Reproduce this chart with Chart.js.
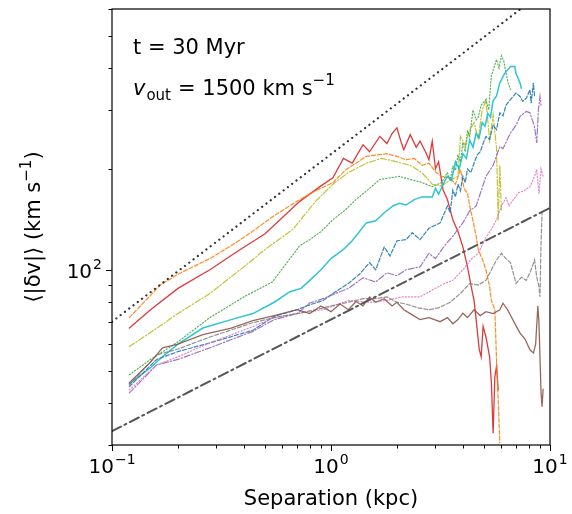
<!DOCTYPE html>
<html>
<head>
<meta charset="utf-8">
<script src="https://cdn.jsdelivr.net/npm/chart.js@4.4.1/dist/chart.umd.min.js"></script>
<style>
  html, body { margin: 0; padding: 0; background: #fff; }
  #wrap { width: 572px; height: 514px; }
</style>
</head>
<body>
<div id="wrap"><canvas id="grafica" width="572" height="514"></canvas></div>
<script>
// datos (separacion en kpc, <|dv|> en km/s)
const redX = [0.12, 0.15, 0.2, 0.28, 0.37, 0.5, 0.72, 0.9, 1.02, 1.14, 1.25, 1.4, 1.5, 1.67, 1.8, 1.9, 2.0, 2.1, 2.15, 2.3, 2.45, 2.55, 2.7, 2.8, 2.9, 3.0, 3.1, 3.25, 3.4, 3.6, 3.8, 4.0, 4.2, 4.4, 4.5, 4.6, 4.75, 4.85, 4.95, 5.1, 5.3, 5.4, 5.5, 5.6, 5.7, 5.8];
const redY = [67, 76, 88, 100, 113, 128, 160, 178, 188, 215, 208, 236, 225, 250, 238, 255, 265, 238, 228, 253, 232, 242, 225, 213, 242, 200, 210, 173, 162, 141, 130, 117, 102, 87, 81, 71, 58, 55, 67.7, 63, 55, 46, 32.5, 48, 51.5, 43.8];

const orangeX = [0.12, 0.166, 0.2, 0.28, 0.35, 0.43, 0.55, 0.72, 0.85, 1.02, 1.17, 1.3, 1.45, 1.6, 1.8, 2.0, 2.2, 2.4, 2.6, 2.8, 3.0, 3.2, 3.5, 3.7, 3.9, 4.05, 4.2, 4.3, 4.45, 4.6, 4.7, 4.9, 5.1, 5.3, 5.4, 5.6, 5.7, 5.8, 5.9];
const orangeY = [72, 90, 97, 108, 118, 129, 145, 162, 172, 182, 199, 208, 218, 220, 222, 218, 213, 215, 205, 208, 196, 190, 188, 180, 199, 175, 169, 155, 140, 126, 115, 108, 100, 89, 81, 76, 54, 41, 30.5];

const oliveX = [0.12, 0.15, 0.2, 0.28, 0.4, 0.5, 0.67, 0.72, 0.85, 1.02, 1.2, 1.45, 1.7, 2.0, 2.3, 2.6, 2.9, 3.2, 3.5, 3.8, 3.9, 4.1, 4.3, 4.5, 4.7, 4.9, 5.1, 5.3, 5.5, 5.7, 5.8, 5.9, 6.0];
const oliveY = [59, 65, 74, 85, 102, 115, 132, 140, 160, 180, 195, 208, 215, 210, 205, 195, 180, 178, 185, 190, 250, 235, 262, 275, 245, 300, 320, 244, 290, 230, 140, 205, 150];

const greenX = [0.12, 0.15, 0.197, 0.28, 0.4, 0.54, 0.72, 0.8, 0.9, 1.02, 1.15, 1.3, 1.5, 1.67, 1.85, 2.05, 2.3, 2.55, 2.9, 3.2, 3.4, 3.5, 3.6, 3.7, 3.8, 3.9, 4.0, 4.1, 4.2, 4.3, 4.45, 4.6, 4.7, 4.85, 5.1, 5.25, 5.4, 5.7, 5.85, 6.0, 6.15, 6.3, 6.45, 6.6];
const greenY = [48.6, 54, 60.5, 72, 83, 92, 118, 123, 130, 141, 150, 162, 175, 186, 188, 190, 186, 183, 177, 182, 195, 185, 204, 198, 220, 210, 240, 225, 260, 250, 300, 280, 285, 310, 322, 300, 380, 424, 400, 435, 420, 386, 360, 345];

const cyanX = [0.12, 0.15, 0.17, 0.2, 0.26, 0.35, 0.44, 0.55, 0.65, 0.73, 0.8, 0.9, 1.0, 1.14, 1.25, 1.45, 1.6, 1.75, 1.92, 2.05, 2.2, 2.4, 2.6, 2.9, 3.0, 3.1, 3.25, 3.4, 3.55, 3.7, 3.85, 4.0, 4.15, 4.3, 4.45, 4.6, 4.75, 4.9, 5.05, 5.2, 5.35, 5.5, 5.7, 5.9, 6.2, 6.6, 6.9, 7.0, 7.3, 7.4];
const cyanY = [45.7, 51, 55, 60, 67, 71, 74, 80, 86, 88, 93, 100, 108, 115, 122, 138, 140, 148, 155, 158, 156, 162, 165, 165, 175, 168, 180, 190, 185, 210, 200, 222, 215, 244, 232, 255, 248, 275, 268, 293, 285, 320, 330, 361, 385, 404, 404, 385, 361, 348];

const blueX = [0.12, 0.16, 0.2, 0.28, 0.44, 0.55, 0.7, 0.8, 0.92, 1.05, 1.2, 1.35, 1.5, 1.6, 1.75, 1.86, 2.0, 2.2, 2.35, 2.55, 2.8, 3.15, 3.4, 3.5, 3.6, 3.7, 3.8, 3.9, 4.0, 4.1, 4.2, 4.35, 4.5, 4.65, 4.8, 4.95, 5.1, 5.3, 5.5, 5.7, 5.9, 6.1, 6.3, 6.6, 7.0, 7.3, 7.5, 7.8, 8.1, 8.2, 8.4, 8.5];
const blueY = [44.8, 54, 57, 60.5, 66, 72.6, 76, 78.6, 81, 86, 91, 97, 105, 100, 117, 110, 122, 123, 129, 123, 133, 138, 155, 148, 173, 165, 180, 172, 190, 182, 200, 195, 208, 220, 225, 238, 250, 245, 270, 262, 294, 288, 310, 322, 337, 329, 318, 325, 345, 314, 361, 330];

const purpleX = [0.12, 0.16, 0.2, 0.28, 0.44, 0.55, 0.7, 0.8, 0.92, 1.05, 1.2, 1.4, 1.6, 1.8, 2.0, 2.2, 2.55, 2.8, 3.0, 3.3, 3.6, 4.0, 4.3, 4.6, 5.1, 5.5, 5.9, 6.1, 6.6, 7.0, 7.3, 7.8, 8.1, 8.5, 8.7, 8.85, 9.0, 9.1];
const purpleY = [42.9, 52, 54, 58.5, 65.5, 71, 74, 79.6, 82, 85, 88, 94.6, 92, 98, 96, 100, 102, 112, 108, 118, 126, 138, 150, 155, 190, 205, 233, 230, 256, 270, 287, 297, 294, 267, 239, 300, 329, 310];

const pinkX = [0.12, 0.16, 0.2, 0.28, 0.44, 0.55, 0.7, 0.92, 1.2, 1.5, 1.8, 2.1, 2.55, 2.9, 3.3, 3.6, 4.0, 4.4, 4.7, 5.1, 5.4, 5.7, 6.0, 6.3, 6.5, 6.8, 7.2, 7.6, 8.1, 8.5, 8.7, 8.9, 9.1, 9.3];
const pinkY = [43.8, 52, 55, 60.5, 67.7, 72, 74, 76, 81, 80, 81, 83, 83, 87, 91, 93, 100, 108, 112, 125, 132, 141, 155, 164, 155, 162, 170, 172, 177, 190, 199, 169, 200, 190];

const grayX = [0.12, 0.16, 0.2, 0.28, 0.44, 0.55, 0.7, 0.85, 1.0, 1.2, 1.4, 1.6, 1.8, 2.0, 2.2, 2.5, 2.8, 3.1, 3.5, 3.9, 4.3, 4.7, 5.1, 5.4, 5.7, 6.0, 6.3, 6.6, 7.0, 7.4, 7.8, 8.2, 8.5, 8.7, 8.9, 9.0, 9.1, 9.2];
const grayY = [45.3, 55.7, 58, 63, 69.5, 72, 74, 76, 78, 80, 82, 82, 83, 80, 79, 77, 76, 77, 80, 85, 91, 90, 93, 100, 107, 112, 108, 105, 91, 95, 93, 100, 107, 95, 89, 83, 120, 148];

const brownX = [0.12, 0.15, 0.17, 0.2, 0.26, 0.35, 0.44, 0.55, 0.7, 0.8, 0.9, 1.0, 1.1, 1.2, 1.3, 1.4, 1.5, 1.6, 1.75, 1.9, 2.0, 2.15, 2.3, 2.55, 2.8, 3.15, 3.4, 3.6, 3.8, 4.0, 4.2, 4.5, 4.8, 5.1, 5.5, 5.9, 6.1, 6.4, 7.0, 7.3, 7.7, 8.1, 8.4, 8.6, 8.8, 8.9, 9.0, 9.1, 9.2, 9.3];
const brownY = [46, 53, 58.5, 60, 64, 67, 70.5, 73, 76, 74, 78, 75, 79, 76, 80.4, 78, 83, 80, 82, 78, 80, 76, 74, 71, 72, 70, 72, 69, 71, 74.2, 72, 76, 73, 75, 74, 76, 79.5, 76, 68, 64.7, 62, 57.7, 56.4, 60, 78, 70, 55, 43, 39, 44];

// rectas de referencia (pendientes 1/2 y 1/3)
const refDotX = [0.1, 10];
const refDotY = [70, 700];
const refDashDotX = [0.1, 10];
const refDashDotY = [33, 153];

// ticks
const xMayores = [0.1, 1, 10];
const xExponentes = ["\u22121", "0", "1"];
const xMenores = [0.2, 0.3, 0.4, 0.5, 0.6, 0.7, 0.8, 0.9, 2, 3, 4, 5, 6, 7, 8, 9];
const yMayores = [100];
const yExponentes = ["2"];
const yMenores = [30, 40, 50, 60, 70, 80, 90, 200, 300, 400, 500, 600];

const FUENTE = "DejaVu Sans";

function puntos(xs, ys) {
    return xs.map((x, i) => ({ x: x, y: ys[i] }));
}

function serie(xs, ys, color, dash, ancho) {
    return {
        data: puntos(xs, ys),
        borderColor: color,
        borderWidth: ancho || 1.2,
        borderDash: dash,
        showLine: true,
        pointRadius: 0,
        tension: 0,
        fill: false
    };
}

const DASH = [4, 2];
const DASHDOT = [6, 2, 1.3, 2];
const DOT = [1.2, 2];

// texto con potencia: "10" y exponente
function textoPotencia(ctx, exp, x, y, align) {
    ctx.font = "20px '" + FUENTE + "'";
    const wBase = ctx.measureText("10").width;
    ctx.font = "14px '" + FUENTE + "'";
    const wExp = ctx.measureText(exp).width;
    const total = wBase + wExp + 1;
    let x0 = x;
    if (align === "center") x0 = x - total / 2;
    if (align === "right") x0 = x - total;
    ctx.textAlign = "left";
    ctx.textBaseline = "alphabetic";
    ctx.font = "20px '" + FUENTE + "'";
    ctx.fillText("10", x0, y);
    ctx.font = "14px '" + FUENTE + "'";
    ctx.fillText(exp, x0 + wBase + 1, y - 9);
}

const ejesPlugin = {
    id: "ejes",
    afterDraw(chart) {
        const ctx = chart.ctx;
        const sx = chart.scales.x;
        const sy = chart.scales.y;
        const a = chart.chartArea;
        ctx.save();
        ctx.strokeStyle = "#000";
        ctx.fillStyle = "#000";
        ctx.lineWidth = 1.2;
        ctx.strokeRect(a.left, a.top, a.right - a.left, a.bottom - a.top);

        ctx.lineWidth = 1;
        ctx.beginPath();
        xMayores.forEach(v => {
            const p = Math.round(sx.getPixelForValue(v)) + 0.5;
            ctx.moveTo(p, a.bottom); ctx.lineTo(p, a.bottom + 6);
        });
        xMenores.forEach(v => {
            const p = Math.round(sx.getPixelForValue(v)) + 0.5;
            ctx.moveTo(p, a.bottom); ctx.lineTo(p, a.bottom + 3.5);
        });
        yMayores.forEach(v => {
            const p = Math.round(sy.getPixelForValue(v)) + 0.5;
            ctx.moveTo(a.left, p); ctx.lineTo(a.left - 6, p);
        });
        yMenores.forEach(v => {
            const p = Math.round(sy.getPixelForValue(v)) + 0.5;
            ctx.moveTo(a.left, p); ctx.lineTo(a.left - 3.5, p);
        });
        ctx.stroke();

        xMayores.forEach((v, i) => {
            textoPotencia(ctx, xExponentes[i], sx.getPixelForValue(v), a.bottom + 28, "center");
        });
        yMayores.forEach((v, i) => {
            textoPotencia(ctx, yExponentes[i], a.left - 10, sy.getPixelForValue(v) + 8, "right");
        });

        // titulo eje x
        ctx.font = "21px '" + FUENTE + "'";
        ctx.textAlign = "center";
        ctx.fillText("Separation (kpc)", (a.left + a.right) / 2, 505);

        // titulo eje y
        ctx.save();
        ctx.translate(40, (a.top + a.bottom) / 2);
        ctx.rotate(-Math.PI / 2);
        ctx.font = "21px '" + FUENTE + "'";
        const t1 = "\u27E8|\u03B4v|\u27E9 (km s";
        const t2 = "\u22121";
        const t3 = ")";
        const w1 = ctx.measureText(t1).width;
        const w3 = ctx.measureText(t3).width;
        ctx.font = "15px '" + FUENTE + "'";
        const w2 = ctx.measureText(t2).width;
        const x0 = -(w1 + w2 + w3) / 2;
        ctx.textAlign = "left";
        ctx.font = "21px '" + FUENTE + "'";
        ctx.fillText(t1, x0, 0);
        ctx.fillText(t3, x0 + w1 + w2, 0);
        ctx.font = "15px '" + FUENTE + "'";
        ctx.fillText(t2, x0 + w1, -9);
        ctx.restore();

        // anotaciones
        ctx.textAlign = "left";
        ctx.font = "21px '" + FUENTE + "'";
        ctx.fillText("t = 30 Myr", 133, 54);
        let x = 133;
        const yb = 95;
        ctx.font = "italic 21px '" + FUENTE + "'";
        ctx.fillText("v", x, yb);
        x += ctx.measureText("v").width + 1;
        ctx.font = "15px '" + FUENTE + "'";
        ctx.fillText("out", x, yb + 5);
        x += ctx.measureText("out").width + 7;
        ctx.font = "21px '" + FUENTE + "'";
        ctx.fillText("= 1500 km s", x, yb);
        x += ctx.measureText("= 1500 km s").width;
        ctx.font = "15px '" + FUENTE + "'";
        ctx.fillText("\u22121", x, yb - 10);
        ctx.restore();
    }
};

new Chart(document.getElementById("grafica"), {
    type: "scatter",
    data: {
        datasets: [
            serie(refDotX, refDotY, "#333333", [0.1, 5.3], 2.2),
            serie(refDashDotX, refDashDotY, "#555555", [10, 4, 2, 4], 2),
            serie(brownX, brownY, "rgba(140,86,75,0.9)", [], 1.3),
            serie(grayX, grayY, "rgba(127,127,127,0.85)", DASH),
            serie(pinkX, pinkY, "rgba(227,119,194,0.9)", DOT),
            serie(purpleX, purpleY, "rgba(148,103,189,0.9)", DASHDOT),
            serie(blueX, blueY, "rgba(31,119,180,0.9)", DASH),
            serie(cyanX, cyanY, "rgba(23,190,207,0.9)", [], 1.5),
            serie(greenX, greenY, "rgba(44,160,44,0.8)", DOT),
            serie(oliveX, oliveY, "rgba(188,189,34,0.9)", DASHDOT),
            serie(orangeX, orangeY, "rgba(255,127,14,0.9)", DASH),
            serie(redX, redY, "rgba(214,39,40,0.9)", [], 1.3)
        ]
    },
    options: {
        responsive: false,
        animation: false,
        events: [],
        layout: { padding: { top: 9, right: 22, left: 0, bottom: 0 } },
        plugins: {
            legend: { display: false },
            tooltip: { enabled: false }
        },
        elements: { line: { borderCapStyle: "round" } },
        scales: {
            x: {
                type: "logarithmic",
                min: 0.1,
                max: 10,
                ticks: { display: false },
                grid: { display: false, drawTicks: false },
                border: { display: false },
                afterFit: s => { s.height = 69; }
            },
            y: {
                type: "logarithmic",
                min: 30,
                max: 600,
                ticks: { display: false },
                grid: { display: false, drawTicks: false },
                border: { display: false },
                afterFit: s => { s.width = 112; }
            }
        }
    },
    plugins: [ejesPlugin]
});
</script>
</body>
</html>
